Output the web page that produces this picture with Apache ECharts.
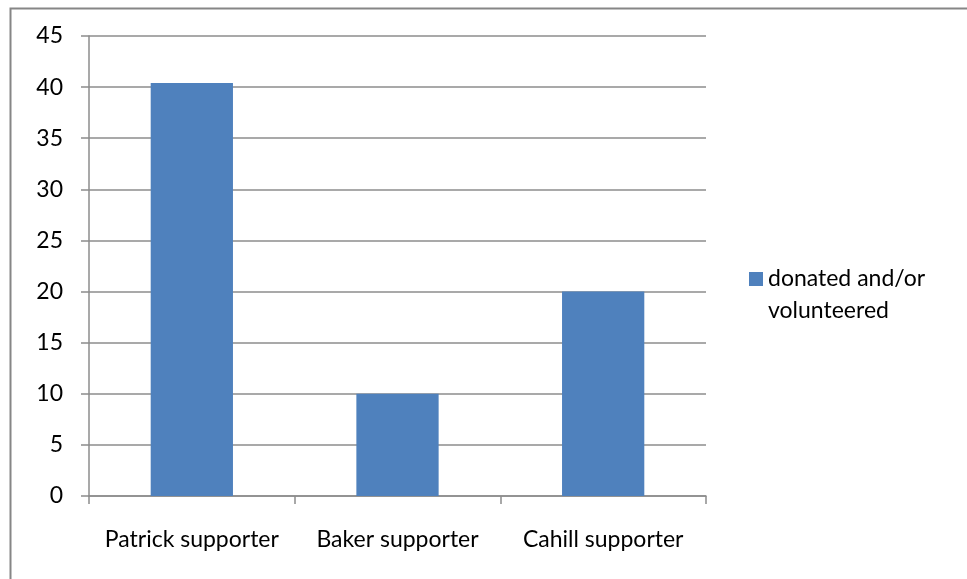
<!DOCTYPE html>
<html>
<head>
<meta charset="utf-8">
<script src="https://cdn.jsdelivr.net/npm/echarts@6/dist/echarts.min.js"></script>
<style>
  html, body { margin: 0; padding: 0; background: #fff; }
  #chart { width: 967px; height: 579px; }
</style>
</head>
<body>
<div id="chart"></div>
<script>
// Supporter groups and share that donated and/or volunteered
const categories = ['Patrick supporter', 'Baker supporter', 'Cahill supporter'];
const seriesName = 'donated and/or volunteered';
const values = [40.4, 10, 20];
const yTicks = [0, 5, 10, 15, 20, 25, 30, 35, 40, 45];

const FONT = 'Lato, "Open Sans", sans-serif';
const FONT_SIZE = 23;
const GRID_COLOR = '#8c8c8c';

const chart = echarts.init(document.getElementById('chart'), null, { renderer: 'canvas' });

chart.setOption({
  animation: false,
  backgroundColor: '#ffffff',
  graphic: [{
    type: 'rect',
    left: 8, top: 6,
    shape: { width: 1000, height: 620 },
    style: { fill: 'none', stroke: '#868686', lineWidth: 2 },
    silent: true
  }],
  grid: { left: 89, top: 36, right: 261, bottom: 83, containLabel: false },
  legend: {
    left: 749, top: 231,
    padding: 0,
    orient: 'vertical',
    icon: 'rect',
    itemWidth: 14, itemHeight: 14,
    itemGap: 6,
    // leading blank line keeps the icon level with the first text line
    formatter: function (name) { return ' \n' + name.replace(' and/or ', ' and/or\n'); },
    textStyle: { fontFamily: FONT, fontSize: FONT_SIZE, color: '#000', lineHeight: 32 },
    data: [seriesName]
  },
  xAxis: {
    type: 'category',
    data: categories,
    axisLine: { show: true, lineStyle: { color: GRID_COLOR, width: 1.5 } },
    axisTick: { show: true, length: 8, lineStyle: { color: GRID_COLOR, width: 1.5 } },
    axisLabel: { fontFamily: FONT, fontSize: FONT_SIZE, color: '#000', margin: 32, interval: 0 },
    splitLine: { show: false }
  },
  yAxis: {
    type: 'value',
    min: 0, max: 45, interval: 5,
    axisLine: { show: true, lineStyle: { color: GRID_COLOR, width: 1.5 } },
    axisTick: { show: true, length: 8, lineStyle: { color: GRID_COLOR, width: 1.5 } },
    axisLabel: {
      fontFamily: FONT, fontSize: FONT_SIZE, color: '#000', margin: 26,
      formatter: function (v) { return yTicks.indexOf(v) >= 0 ? String(v) : ''; }
    },
    splitLine: { show: true, lineStyle: { color: GRID_COLOR, width: 1.5 } }
  },
  series: [{
    name: seriesName,
    type: 'bar',
    data: values,
    barCategoryGap: '60%',
    itemStyle: { color: '#4f81bd' }
  }]
});
</script>
</body>
</html>
